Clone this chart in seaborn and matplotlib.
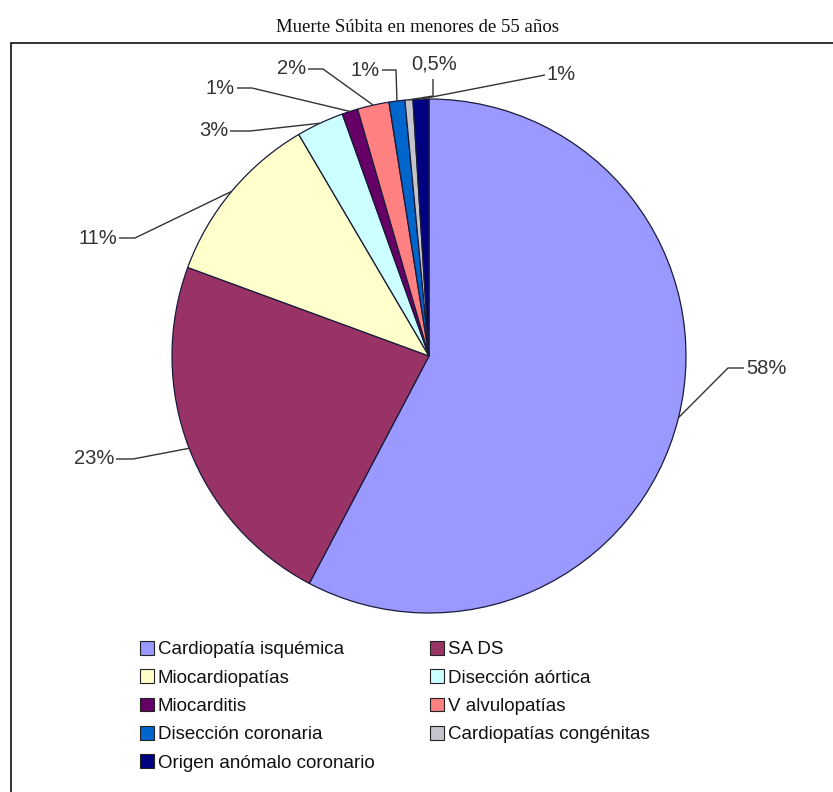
import numpy as np
import matplotlib
matplotlib.use("Agg")
import matplotlib.pyplot as plt
from matplotlib.patches import Rectangle, Patch
import seaborn as sns

# ---- data ----
categories = ["Cardiopatía isquémica", "SADS", "Miocardiopatías", "Disección aórtica",
              "Miocarditis", "Valvulopatías", "Disección coronaria",
              "Cardiopatías congénitas", "Origen anómalo coronario"]
legend_labels = ["Cardiopatía isquémica", "SA DS", "Miocardiopatías", "Disección aórtica",
                 "Miocarditis", "V alvulopatías", "Disección coronaria",
                 "Cardiopatías congénitas", "Origen anómalo coronario"]
values = [58, 23, 11, 3, 1, 2, 1, 0.5, 1]
value_labels = ["58%", "23%", "11%", "3%", "1%", "2%", "1%", "0,5%", "1%"]
colors = ["#9999FF", "#993366", "#FFFFCC", "#CCFFFF", "#660066",
          "#FF8080", "#0066CC", "#C4C4CC", "#000080"]
title = "Muerte Súbita en menores de 55 años"

sns.set_theme(style="white")
plt.rcParams["font.family"] = ["Liberation Sans", "DejaVu Sans"]

W, H = 833, 792
fig = plt.figure(figsize=(W / 100, H / 100), dpi=100)
ax = fig.add_axes([0, 0, 1, 1])


def P(x, y):
    return (x, H - y)


cx, cy = P(429, 356)
R = 257
wedges, _ = ax.pie(values, colors=colors, startangle=90, counterclock=False,
                   center=(cx, cy), radius=R,
                   wedgeprops=dict(edgecolor="#1a1a3a", linewidth=0.9))
ax.set_xlim(0, W)
ax.set_ylim(0, H)
ax.set_aspect("equal")
ax.axis("off")

# frame box
ax.add_patch(Rectangle(P(11, 800), 840, 757, fill=False, edgecolor="#222222",
                       linewidth=1.3, clip_on=False))

# title
fig.text(417 / W, 1 - 28 / H, title, ha="center", va="center",
         family=["Liberation Serif", "DejaVu Serif"], fontsize=13.5, color="#111111")

# label layout: (elbow points after the wedge anchor, text pos, ha)
layout = [
    ([(728, 368), (744, 368)], (746, 368), "left"),
    ([(133, 459), (116, 459)], (114, 459), "right"),
    ([(135, 238), (119, 238)], (117, 238), "right"),
    ([(250, 131), (230, 131)], (228, 131), "right"),
    ([(252, 88), (237, 88)], (235, 88), "right"),
    ([(323, 69), (308, 69)], (306, 69), "right"),
    ([(396, 70), (382, 70)], (380, 70), "right"),
    ([(433, 96), (433, 79)], (434, 64), "center"),
    ([(545, 75)], (547, 75), "left"),
]

for w, lab, (pts, tpos, ha) in zip(wedges, value_labels, layout):
    ang = np.deg2rad((w.theta1 + w.theta2) / 2)
    ax_ = cx + R * np.cos(ang)
    ay_ = cy + R * np.sin(ang)
    xs = [ax_] + [p[0] for p in pts]
    ys = [ay_] + [H - p[1] for p in pts]
    ax.plot(xs, ys, color="#333333", lw=1.0, solid_capstyle="butt")
    ax.text(tpos[0], H - tpos[1], lab, ha=ha, va="center", fontsize=14.5, color="#333333")

# legend in two columns (row-major order as in reference)
handles = [Patch(facecolor=c, edgecolor="#222222", linewidth=0.8) for c in colors]
col1 = [0, 2, 4, 6, 8]
col2 = [1, 3, 5, 7]
common = dict(frameon=False, fontsize=13.5, handlelength=0.75, handleheight=0.75,
              handletextpad=0.2, labelspacing=0.58, borderpad=0, borderaxespad=0,
              loc="upper left")
leg1 = fig.legend([handles[i] for i in col1], [legend_labels[i] for i in col1],
                  bbox_to_anchor=(140 / W, 1 - 641 / H), **common)
leg2 = fig.legend([handles[i] for i in col2], [legend_labels[i] for i in col2],
                  bbox_to_anchor=(430 / W, 1 - 641 / H), **common)
for leg in (leg1, leg2):
    for t in leg.get_texts():
        t.set_color("#111111")

fig.savefig("out.png", dpi=100, facecolor="white")
